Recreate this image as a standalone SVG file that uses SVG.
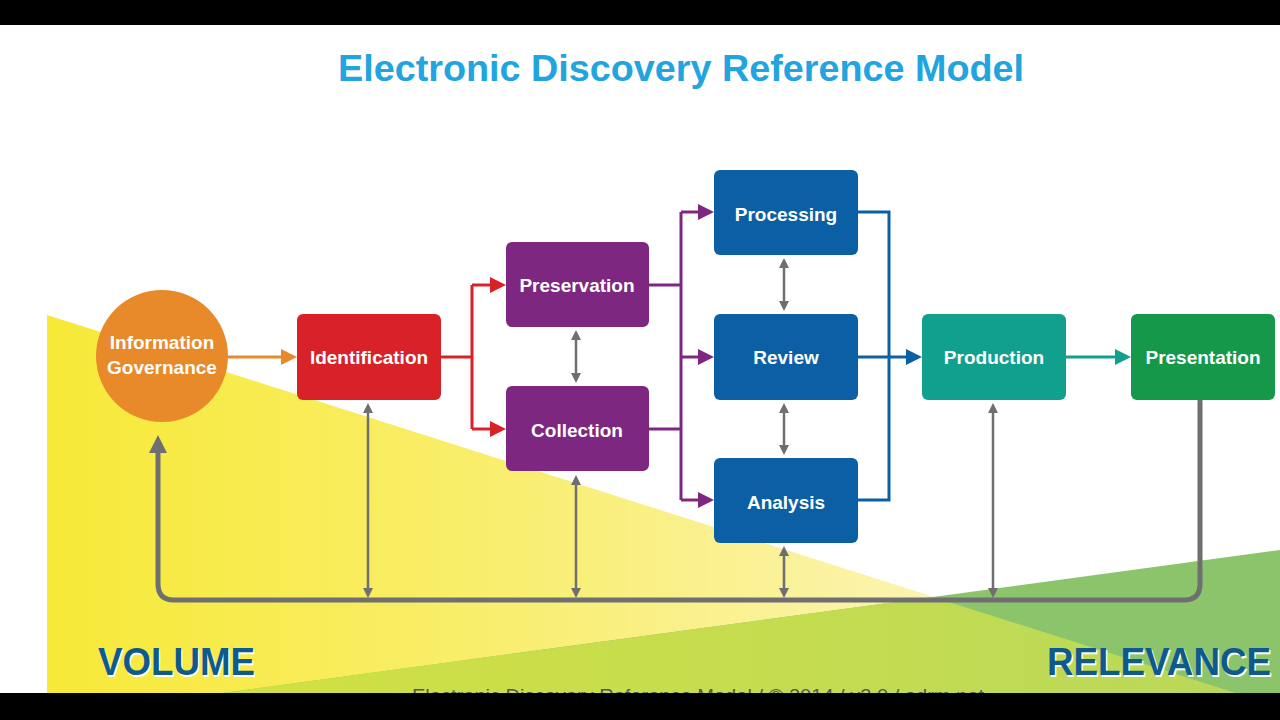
<svg xmlns="http://www.w3.org/2000/svg" width="1280" height="720" viewBox="0 0 1280 720">
  <defs>
    <linearGradient id="yel" gradientUnits="userSpaceOnUse" x1="47" y1="0" x2="950" y2="0">
      <stop offset="0" stop-color="#f7e937"/>
      <stop offset="0.5" stop-color="#f9ee6e"/>
      <stop offset="1" stop-color="#fbf4b4"/>
    </linearGradient>
    <linearGradient id="lime" gradientUnits="userSpaceOnUse" x1="22" y1="0" x2="1280" y2="0">
      <stop offset="0" stop-color="#d6e23e"/>
      <stop offset="1" stop-color="#b9d85a"/>
    </linearGradient>
    <marker id="mOrange" viewBox="0 0 10 10" refX="5" refY="5" markerWidth="16" markerHeight="16" markerUnits="userSpaceOnUse" orient="auto"><path d="M0,0 L10,5 L0,10 z" fill="#e8892a"/></marker>
    <marker id="mRed" viewBox="0 0 10 10" refX="5" refY="5" markerWidth="16" markerHeight="16" markerUnits="userSpaceOnUse" orient="auto"><path d="M0,0 L10,5 L0,10 z" fill="#d92128"/></marker>
    <marker id="mPurple" viewBox="0 0 10 10" refX="5" refY="5" markerWidth="16" markerHeight="16" markerUnits="userSpaceOnUse" orient="auto"><path d="M0,0 L10,5 L0,10 z" fill="#7d2781"/></marker>
    <marker id="mBlue" viewBox="0 0 10 10" refX="5" refY="5" markerWidth="16" markerHeight="16" markerUnits="userSpaceOnUse" orient="auto"><path d="M0,0 L10,5 L0,10 z" fill="#0b5fa5"/></marker>
    <marker id="mTeal" viewBox="0 0 10 10" refX="5" refY="5" markerWidth="16" markerHeight="16" markerUnits="userSpaceOnUse" orient="auto"><path d="M0,0 L10,5 L0,10 z" fill="#12a08e"/></marker>
    <marker id="mGray" viewBox="0 0 10 10" refX="5" refY="5" markerWidth="10" markerHeight="10" markerUnits="userSpaceOnUse" orient="auto-start-reverse"><path d="M0,0 L10,5 L0,10 z" fill="#6f6f72"/></marker>
    <marker id="mGrayBig" viewBox="0 0 10 10" refX="5" refY="5" markerWidth="18" markerHeight="18" markerUnits="userSpaceOnUse" orient="auto"><path d="M0,0 L10,5 L0,10 z" fill="#6f6f72"/></marker>
  </defs>
  <style>
    .node { stroke: none; }
    .lbl { font-family: "Liberation Sans", Arial, sans-serif; font-weight: bold; font-size: 19px; fill: #ffffff; text-anchor: middle; }
    .c { fill: none; stroke-width: 3; }
    .gthin { fill: none; stroke: #6f6f72; stroke-width: 2.5; marker-start: url(#mGray); marker-end: url(#mGray); }
    .big { font-family: "Liberation Sans", Arial, sans-serif; font-weight: bold; font-size: 38px; }
  </style>

  <!-- background -->
  <rect x="0" y="0" width="1280" height="720" fill="#ffffff"/>
  <polygon points="47,315 1280,707 1280,720 47,720" fill="url(#yel)"/>
  <polygon points="1280,550 1280,720 22,720" fill="#8cc46c"/>
  <polygon points="22,720 933,597 1280,707 1280,720" fill="url(#lime)"/>

  <!-- title -->
  <text x="681" y="81" font-family="'Liberation Sans', Arial, sans-serif" font-weight="bold" font-size="36" fill="#22a5de" text-anchor="middle" textLength="686" lengthAdjust="spacingAndGlyphs">Electronic Discovery Reference Model</text>

  <!-- connectors -->
  <g id="connectors">
    <path class="c" stroke="#e8892a" d="M228,357 H289" marker-end="url(#mOrange)"/>
    <path class="c" stroke="#d92128" d="M441,357 H472"/>
    <path class="c" stroke="#d92128" d="M472,285 V429"/>
    <path class="c" stroke="#d92128" d="M472,285 H498" marker-end="url(#mRed)"/>
    <path class="c" stroke="#d92128" d="M472,429 H498" marker-end="url(#mRed)"/>
    <path class="c" stroke="#7d2781" d="M649,285 H681"/>
    <path class="c" stroke="#7d2781" d="M649,429 H681"/>
    <path class="c" stroke="#7d2781" d="M681,212 V500"/>
    <path class="c" stroke="#7d2781" d="M681,212 H706" marker-end="url(#mPurple)"/>
    <path class="c" stroke="#7d2781" d="M681,357 H706" marker-end="url(#mPurple)"/>
    <path class="c" stroke="#7d2781" d="M681,500 H706" marker-end="url(#mPurple)"/>
    <path class="c" stroke="#0b5fa5" stroke-width="2.5" d="M858,212 H889 V500 H858"/>
    <path class="c" stroke="#0b5fa5" d="M858,357 H914" marker-end="url(#mBlue)"/>
    <path class="c" stroke="#12a08e" d="M1066,357 H1123" marker-end="url(#mTeal)"/>
    <path class="gthin" d="M576,335 V378"/>
    <path class="gthin" d="M784,263 V306"/>
    <path class="gthin" d="M784,408 V450"/>
    <path class="gthin" d="M368,408 V593"/>
    <path class="gthin" d="M576,480 V593"/>
    <path class="gthin" d="M784,551 V593"/>
    <path class="gthin" d="M993,408 V593"/>
    <path fill="none" stroke="#6f6f72" stroke-width="5" d="M1200,400 V584 Q1200,600 1184,600 H174 Q158,600 158,584 V444" marker-end="url(#mGrayBig)"/>
  </g>

  <!-- nodes -->
  <g id="information-governance">
    <circle cx="162" cy="356" r="66" fill="#e8892a"/>
    <text class="lbl" x="162" y="349">Information</text>
    <text class="lbl" x="162" y="374">Governance</text>
  </g>
  <g id="identification">
    <rect x="297" y="314" width="144" height="86" rx="6" fill="#d92128"/>
    <text class="lbl" x="369" y="364">Identification</text>
  </g>
  <g id="preservation">
    <rect x="506" y="242" width="143" height="85" rx="6" fill="#7d2781"/>
    <text class="lbl" x="577" y="292">Preservation</text>
  </g>
  <g id="collection">
    <rect x="506" y="386" width="143" height="85" rx="6" fill="#7d2781"/>
    <text class="lbl" x="577" y="437">Collection</text>
  </g>
  <g id="processing">
    <rect x="714" y="170" width="144" height="85" rx="6" fill="#0b5fa5"/>
    <text class="lbl" x="786" y="221">Processing</text>
  </g>
  <g id="review">
    <rect x="714" y="314" width="144" height="86" rx="6" fill="#0b5fa5"/>
    <text class="lbl" x="786" y="364">Review</text>
  </g>
  <g id="analysis">
    <rect x="714" y="458" width="144" height="85" rx="6" fill="#0b5fa5"/>
    <text class="lbl" x="786" y="509">Analysis</text>
  </g>
  <g id="production">
    <rect x="922" y="314" width="144" height="86" rx="6" fill="#12a08e"/>
    <text class="lbl" x="994" y="364">Production</text>
  </g>
  <g id="presentation">
    <rect x="1131" y="314" width="144" height="86" rx="6" fill="#16984a"/>
    <text class="lbl" x="1203" y="364">Presentation</text>
  </g>

  <!-- axis labels -->
  <text class="big" x="99.5" y="676.5" fill="#ffffff" textLength="157" lengthAdjust="spacingAndGlyphs">VOLUME</text>
  <text class="big" x="98" y="675" fill="#0e5a8a" textLength="157" lengthAdjust="spacingAndGlyphs">VOLUME</text>
  <text class="big" x="1048.5" y="676.5" fill="#ffffff" textLength="224" lengthAdjust="spacingAndGlyphs">RELEVANCE</text>
  <text class="big" x="1047" y="675" fill="#0e5a8a" textLength="224" lengthAdjust="spacingAndGlyphs">RELEVANCE</text>

  <!-- footer (cut off by bar) -->
  <text x="698" y="702" font-family="'Liberation Sans', Arial, sans-serif" font-size="18" fill="#555555" text-anchor="middle" textLength="572" lengthAdjust="spacingAndGlyphs">Electronic Discovery Reference Model / © 2014 / v3.0 / edrm.net</text>

  <!-- letterbox bars -->
  <rect x="0" y="0" width="1280" height="25" fill="#000000"/>
  <rect x="0" y="693" width="1280" height="27" fill="#000000"/>
</svg>
